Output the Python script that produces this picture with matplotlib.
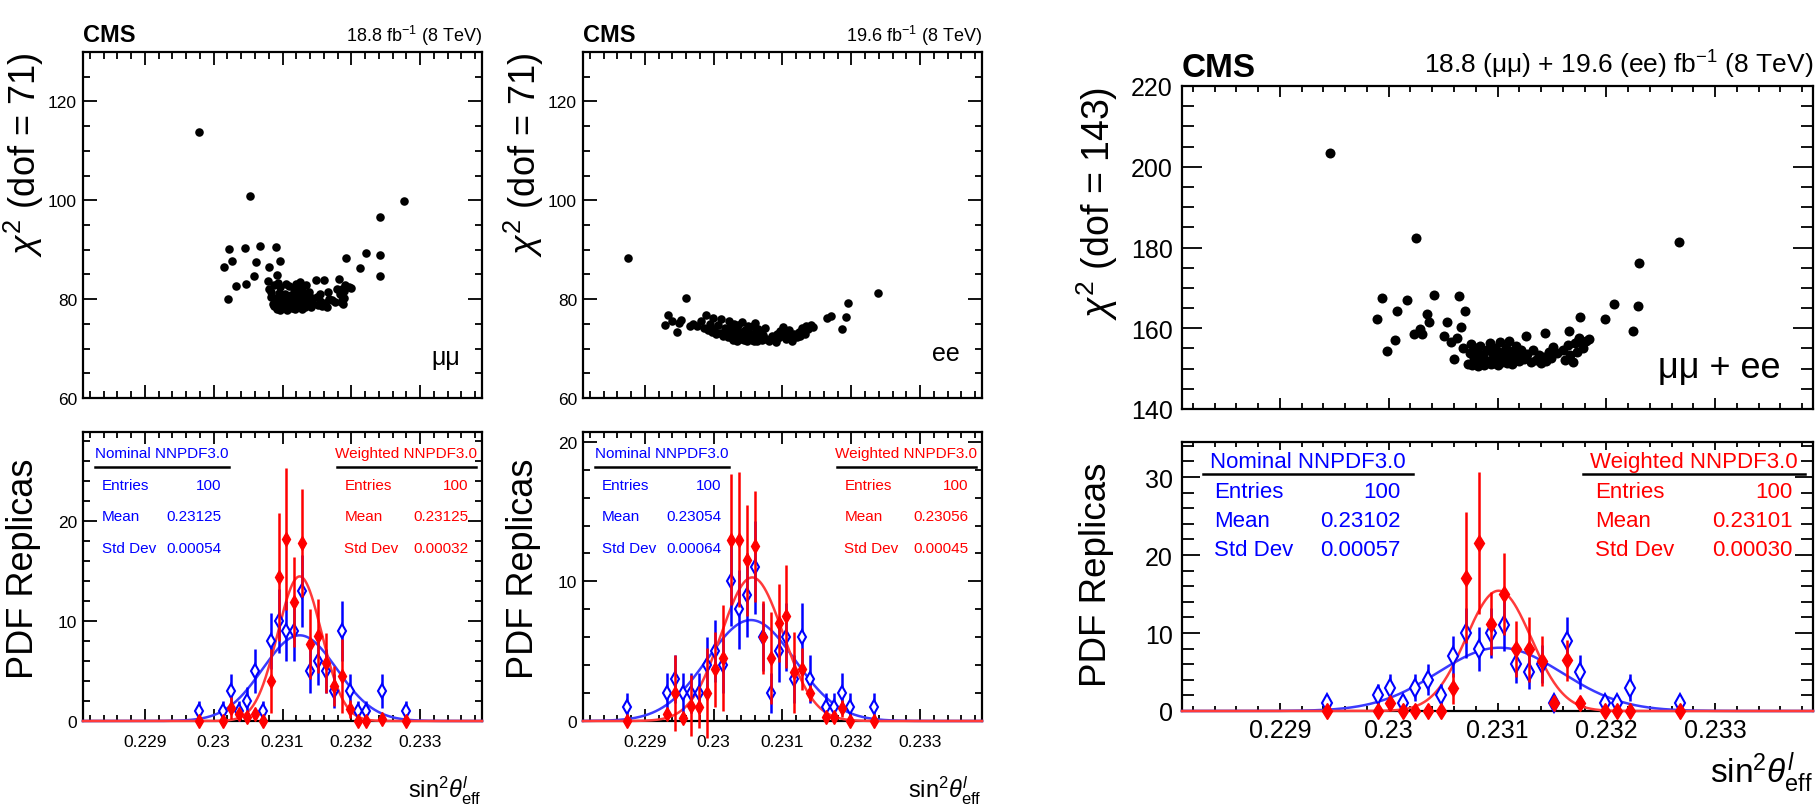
import numpy as np
import matplotlib
matplotlib.use('Agg')
import matplotlib.pyplot as plt
from matplotlib.ticker import MultipleLocator, FuncFormatter

FONT = ['Liberation Sans', 'DejaVu Sans']
plt.rcParams['font.family'] = FONT
plt.rcParams['mathtext.fontset'] = 'custom'
plt.rcParams['mathtext.rm'] = 'Liberation Sans'
plt.rcParams['mathtext.it'] = 'Liberation Sans:italic'
plt.rcParams['mathtext.bf'] = 'Liberation Sans:bold'

BLUE, RED = '#0000ff', '#ff0000'
BLUE_FIT, RED_FIT = '#3a3aff', '#ff3a3a'

# replica histograms: 50 bins over the plotted sin2theta range
X_LO, X_HI, N_BINS = 0.2281, 0.2339, 50
BIN_W = (X_HI - X_LO) / N_BINS

# ---------------- mu mu channel ----------------
mm_points = [
    (0.22978, 113.9), (0.23053, 100.9), (0.23276, 99.9), (0.23242, 96.6), (0.23242, 88.9),
    (0.23242, 84.7), (0.23222, 89.4), (0.23213, 86.3), (0.23193, 88.3),
    (0.23015, 86.6), (0.23022, 90.1), (0.23026, 87.8), (0.23021, 80.1), (0.23032, 82.6),
    (0.23045, 90.3), (0.23047, 83.0), (0.23058, 84.7), (0.23062, 87.6), (0.23067, 90.7),
    (0.23080, 86.5), (0.23091, 90.5), (0.23096, 87.8), (0.23092, 84.8), (0.23079, 83.6),
    (0.23081, 82.1), (0.23084, 80.4), (0.23086, 79.1), (0.23083, 81.5), (0.23088, 78.6),
    (0.23087, 82.8), (0.23090, 80.2), (0.23092, 78.1), (0.23094, 79.4), (0.23095, 81.3),
    (0.23096, 77.8), (0.23098, 80.7), (0.23099, 78.9), (0.23097, 82.4), (0.23093, 83.3),
    (0.23101, 79.6), (0.23103, 78.2), (0.23104, 81.0), (0.23106, 77.9), (0.23107, 80.3),
    (0.23109, 78.7), (0.23110, 82.6), (0.23111, 79.3), (0.23105, 83.1), (0.23113, 80.8),
    (0.23114, 78.3), (0.23116, 79.7), (0.23117, 82.0), (0.23118, 78.0), (0.23119, 81.2),
    (0.23121, 79.0), (0.23122, 80.2), (0.23120, 83.0), (0.23124, 78.6), (0.23125, 80.9),
    (0.23126, 79.4), (0.23127, 82.3), (0.23128, 78.1), (0.23129, 80.0), (0.23130, 81.5),
    (0.23131, 79.1), (0.23132, 78.4), (0.23133, 80.6), (0.23134, 82.8), (0.23134, 79.8),
    (0.23126, 83.4), (0.23137, 79.3), (0.23139, 81.4), (0.23141, 78.5), (0.23143, 80.2),
    (0.23145, 79.0), (0.23149, 83.8), (0.23150, 80.4), (0.23152, 78.9), (0.23154, 79.7),
    (0.23155, 81.1), (0.23157, 78.6), (0.23160, 83.8), (0.23162, 79.2), (0.23164, 78.4),
    (0.23166, 81.4), (0.23168, 80.0), (0.23172, 79.9), (0.23176, 79.4), (0.23179, 82.1),
    (0.23182, 84.1), (0.23183, 81.0), (0.23185, 79.5), (0.23186, 80.6), (0.23187, 82.1),
    (0.23188, 79.0), (0.23189, 81.7), (0.23190, 80.2), (0.23191, 82.8), (0.23196, 82.4),
    (0.23200, 82.2),
]
mm_bins = [14, 17, 18, 19, 20, 21, 22, 23, 24, 25, 26, 27, 28, 29, 30, 31, 32, 33, 34, 35, 37, 40]
mm_nominal = [1, 1, 3, 1, 2, 5, 1, 8, 10, 9, 9, 13, 5, 6, 5, 3, 9, 3, 1, 1, 3, 1]
mm_weighted = [0, 0, 1.3, 0.7, 0.4, 0.7, 0, 4.0, 14.4, 18.2, 11.9, 17.8, 7.7, 8.5, 5.8, 3.5,
               4.5, 1.2, 0, 0, 0.2, 0]
mm_weighted_err = [0, 0, 1.1, 0.5, 0.3, 0.5, 0, 3.2, 6.4, 7.1, 4.5, 5.4, 3.5, 3.7, 3.0, 2.0,
                   3.7, 0.9, 0, 0, 0.2, 0]
mm_nom_stats = (100, 0.23125, 0.00054)
mm_wgt_stats = (100, 0.23125, 0.00032)

# ---------------- ee channel ----------------
ee_points = [
    (0.22876, 88.3), (0.22929, 74.8), (0.22934, 76.7), (0.22939, 75.5), (0.22946, 73.3),
    (0.22950, 75.2), (0.22953, 75.7), (0.22960, 80.3), (0.22966, 74.5), (0.22970, 75.0),
    (0.22976, 74.6), (0.22982, 75.6), (0.22986, 74.2), (0.22989, 76.8), (0.22992, 73.8),
    (0.22995, 74.9), (0.22997, 73.4), (0.22999, 76.2), (0.23001, 74.0), (0.23004, 72.9),
    (0.23006, 74.8), (0.23009, 73.1), (0.23011, 75.9), (0.23014, 72.6), (0.23017, 74.1),
    (0.23020, 73.7), (0.23021, 72.3), (0.23022, 75.6), (0.23023, 73.0), (0.23025, 74.4),
    (0.23026, 72.1), (0.23027, 73.5), (0.23028, 71.8), (0.23029, 74.9), (0.23030, 72.8),
    (0.23032, 73.9), (0.23033, 72.0), (0.23034, 71.6), (0.23036, 74.7), (0.23037, 72.9),
    (0.23039, 71.9), (0.23040, 73.4), (0.23041, 75.3), (0.23043, 72.3), (0.23044, 71.7),
    (0.23046, 73.8), (0.23047, 72.6), (0.23048, 71.5), (0.23050, 74.5), (0.23051, 72.1),
    (0.23052, 73.2), (0.23053, 71.9), (0.23055, 73.0), (0.23056, 71.8), (0.23057, 74.6),
    (0.23058, 72.4), (0.23059, 71.6), (0.23061, 73.6), (0.23062, 72.1), (0.23063, 71.5),
    (0.23064, 74.0), (0.23065, 72.7), (0.23060, 75.2), (0.23067, 72.2), (0.23069, 73.4),
    (0.23070, 71.7), (0.23072, 72.8), (0.23074, 74.1), (0.23076, 72.0), (0.23080, 71.6),
    (0.23085, 72.5), (0.23090, 71.4), (0.23092, 73.0), (0.23094, 72.2), (0.23097, 73.6),
    (0.23099, 72.6), (0.23101, 74.4), (0.23103, 73.1), (0.23105, 71.9), (0.23107, 72.7),
    (0.23109, 73.7), (0.23111, 72.3), (0.23114, 71.6), (0.23117, 73.0), (0.23121, 72.4),
    (0.23124, 73.3), (0.23126, 72.5), (0.23128, 74.2), (0.23130, 73.6), (0.23132, 72.9),
    (0.23134, 74.6), (0.23137, 73.9), (0.23141, 74.8), (0.23145, 74.3), (0.23164, 76.1),
    (0.23171, 76.5), (0.23187, 74.0), (0.23193, 76.4), (0.23195, 79.3), (0.23239, 81.3),
]
ee_bins = [5, 10, 11, 12, 13, 14, 15, 16, 17, 18, 19, 20, 21, 22, 23, 24, 25, 26, 27, 28,
           30, 31, 32, 33, 36]
ee_nominal = [1, 2, 3, 2, 2, 2, 4, 5, 4, 10, 8, 9, 11, 6, 2, 5, 6, 3, 6, 3, 1, 1, 2, 1, 1]
ee_weighted = [0, 0.5, 2.0, 0.25, 1.1, 1.0, 2.0, 3.7, 4.5, 13.0, 13.0, 11.5, 12.5, 6.0, 4.5,
               7.0, 7.5, 3.5, 3.7, 2.0, 0.3, 0.3, 0.9, 0, 0]
ee_weighted_err = [0, 0.4, 2.7, 0.2, 2.2, 1.5, 3.2, 2.7, 3.8, 4.7, 4.8, 4.0, 4.0, 2.6, 3.3,
                   2.8, 3.7, 2.9, 1.5, 0.6, 0.3, 0.3, 0.6, 0, 0]
ee_nom_stats = (100, 0.23054, 0.00064)
ee_wgt_stats = (100, 0.23056, 0.00045)

# ---------------- combined mu mu + ee ----------------
comb_points = [
    (0.22946, 203.5), (0.23025, 182.4), (0.22994, 167.6), (0.23008, 164.3), (0.22989, 162.4),
    (0.23017, 167.0), (0.23042, 168.2), (0.23006, 157.1), (0.22998, 154.4), (0.23023, 158.6),
    (0.23031, 158.6), (0.23035, 163.5), (0.23037, 161.5), (0.23029, 159.8), (0.23267, 181.3),
    (0.23230, 176.1), (0.23229, 165.6), (0.23225, 159.2), (0.23207, 166.1), (0.23199, 162.4),
    (0.23176, 162.9), (0.23065, 168.0), (0.23070, 164.3), (0.23054, 161.5), (0.23066, 160.2),
    (0.23060, 152.5), (0.23126, 158.1), (0.23144, 158.8), (0.23166, 159.4), (0.23181, 156.9),
    (0.23174, 156.9), (0.23051, 158.1), (0.23057, 156.5), (0.23063, 157.5), (0.23068, 155.0),
    (0.23073, 151.2), (0.23075, 153.8), (0.23076, 156.2), (0.23077, 150.8), (0.23078, 152.6),
    (0.23079, 155.1), (0.23080, 151.7), (0.23081, 154.0), (0.23082, 150.6), (0.23083, 152.9),
    (0.23084, 155.6), (0.23085, 151.4), (0.23087, 153.3), (0.23088, 150.9), (0.23090, 154.6),
    (0.23091, 152.0), (0.23093, 156.3), (0.23094, 151.2), (0.23096, 153.6), (0.23097, 151.5),
    (0.23098, 155.2), (0.23099, 152.3), (0.23100, 150.9), (0.23101, 154.1), (0.23102, 156.6),
    (0.23103, 152.8), (0.23104, 151.6), (0.23105, 153.7), (0.23107, 152.0), (0.23108, 155.0),
    (0.23109, 151.3), (0.23110, 153.4), (0.23111, 156.8), (0.23112, 152.5), (0.23113, 151.1),
    (0.23114, 154.3), (0.23115, 152.9), (0.23116, 151.8), (0.23117, 155.6), (0.23119, 153.1),
    (0.23120, 151.9), (0.23122, 154.7), (0.23124, 152.4), (0.23127, 153.6), (0.23131, 151.6),
    (0.23133, 154.5), (0.23135, 152.2), (0.23138, 153.3), (0.23140, 151.4), (0.23143, 153.0),
    (0.23145, 151.8), (0.23147, 154.2), (0.23149, 152.6), (0.23151, 155.3), (0.23155, 153.9),
    (0.23160, 154.6), (0.23162, 152.1), (0.23165, 155.8), (0.23167, 153.3), (0.23169, 151.7),
    (0.23171, 156.4), (0.23173, 154.0), (0.23175, 157.6), (0.23179, 155.1), (0.23184, 157.4),
]
comb_bins = [11, 15, 16, 17, 18, 19, 20, 21, 22, 23, 24, 25, 26, 27, 28, 29, 30, 31, 33, 34, 35, 39]
comb_nominal = [1, 2, 3, 1, 3, 4, 2, 7, 10, 8, 10, 11, 6, 5, 6, 1, 9, 5, 1, 1, 3, 1]
comb_weighted = [0, 0, 1.0, 0, 0, 0, 0, 2.9, 17.1, 21.5, 11.2, 15.0, 7.9, 7.9, 6.4, 1.0, 6.5,
                 1.0, 0, 0, 0, 0]
comb_weighted_err = [0, 0, 0.8, 0, 0, 0, 0, 2.0, 8.4, 9.1, 4.0, 5.2, 3.6, 4.2, 3.2, 0.6, 2.6,
                     0.5, 0, 0, 0, 0]
comb_nom_stats = (100, 0.23102, 0.00057)
comb_wgt_stats = (100, 0.23101, 0.00030)

W, H = 1818, 812
fig = plt.figure(figsize=(W / 100, H / 100), dpi=100)


def px_axes(left, top, right, bottom):
    return fig.add_axes([left / W, 1 - bottom / H, (right - left) / W, (bottom - top) / H])


def frame(ax, ylim, ystep, ysub, xlen, ylen, size, xpad, ypad, xlabels):
    ax.set_xlim(X_LO, X_HI)
    ax.set_ylim(*ylim)
    ax.xaxis.set_major_locator(MultipleLocator(0.001))
    ax.xaxis.set_minor_locator(MultipleLocator(0.0002))
    ax.yaxis.set_major_locator(MultipleLocator(ystep))
    ax.yaxis.set_minor_locator(MultipleLocator(ysub))
    ax.tick_params(which='both', direction='in', top=True, right=True, width=1.3,
                   labelsize=size)
    ax.tick_params(axis='x', which='major', length=xlen[0], pad=xpad)
    ax.tick_params(axis='x', which='minor', length=xlen[1])
    ax.tick_params(axis='y', which='major', length=ylen[0], pad=ypad)
    ax.tick_params(axis='y', which='minor', length=ylen[1])
    ax.xaxis.set_major_formatter(FuncFormatter(lambda v, p: '%g' % round(v, 4)))
    ax.yaxis.set_major_formatter(FuncFormatter(lambda v, p: '%g' % round(v, 3)))
    if not xlabels:
        ax.tick_params(axis='x', labelbottom=False)
    for sp in ax.spines.values():
        sp.set_linewidth(1.6)


def scatter_panel(ax, points, dot):
    sin2, chi2 = zip(*points)
    ax.scatter(sin2, chi2, s=dot, color='black', linewidths=0, zorder=3)


def hist_panel(ax, bins, nominal, weighted, weighted_err, nom_stats, wgt_stats, ms):
    centers = X_LO + (np.asarray(bins) + 0.5) * BIN_W
    xs = np.linspace(X_LO, X_HI, 800)
    # gaussian curves from the quoted mean and std dev, scaled to the bin width
    for (n, mean, std), col in ((nom_stats, BLUE_FIT), (wgt_stats, RED_FIT)):
        amp = n * BIN_W / (np.sqrt(2 * np.pi) * std)
        ax.plot(xs, amp * np.exp(-0.5 * ((xs - mean) / std) ** 2), color=col, lw=1.8,
                zorder=3, clip_on=False)
    nom = np.asarray(nominal, float)
    keep = nom > 0
    eb1 = ax.errorbar(centers[keep], nom[keep], yerr=np.sqrt(nom[keep]), fmt='d', ms=ms,
                      mfc='white', mec=BLUE, mew=1.5, color=BLUE, elinewidth=1.8,
                      capsize=0, zorder=4)
    eb2 = ax.errorbar(centers, weighted, yerr=weighted_err, fmt='d', ms=ms * 0.95,
                      color=RED, elinewidth=1.8, capsize=0, zorder=5)
    for cont in (eb1, eb2):
        for art in cont.get_children():
            art.set_clip_on(False)


def stats_box(ax, u0, u1, title, stats, color, size):
    n, mean, std = stats
    ax.text((u0 + u1) / 2, 0.926, title, transform=ax.transAxes, ha='center', va='center',
            color=color, fontsize=size, zorder=6)
    ax.plot([u0, u1], [0.880, 0.880], transform=ax.transAxes, color='black', lw=1.8,
            clip_on=False, zorder=6)
    rows = [('Entries', '%d' % n), ('Mean', '%.5f' % mean), ('Std Dev', '%.5f' % std)]
    for (lab, val), y in zip(rows, (0.815, 0.710, 0.600)):
        ax.text(u0 + 0.018, y, lab, transform=ax.transAxes, ha='left', va='center',
                color=color, fontsize=size, zorder=6)
        ax.text(u1 - 0.019, y, val, transform=ax.transAxes, ha='right', va='center',
                color=color, fontsize=size, zorder=6)


XLABEL = r'$\mathrm{sin}^{2}\theta^{\mathit{l}}_{\mathrm{eff}}$'

# ---- the two single-channel columns ----
columns = [
    (83, mm_points, mm_bins, mm_nominal, mm_weighted, mm_weighted_err, mm_nom_stats,
     mm_wgt_stats, (0, 28.9), '18.8 fb$^{-1}$ (8 TeV)', 'μμ', 0.118),
    (583, ee_points, ee_bins, ee_nominal, ee_weighted, ee_weighted_err, ee_nom_stats,
     ee_wgt_stats, (0, 20.7), '19.6 fb$^{-1}$ (8 TeV)', 'ee', 0.130),
]
for left, pts, bins, nomc, wgt, werr, nst, wst, hylim, lumi, chan, chan_y in columns:
    right = left + 399
    top_ax = px_axes(left, 53, right, 399)
    frame(top_ax, (60, 130), 20, 5, (9.4, 5), (10, 5), 12.5, 6, 4.3, False)
    scatter_panel(top_ax, pts, 38)
    top_ax.text(0, 1.032, 'CMS', transform=top_ax.transAxes, ha='left', va='baseline',
                fontsize=17, fontweight='bold')
    top_ax.text(1, 1.032, lumi, transform=top_ax.transAxes, ha='right', va='baseline',
                fontsize=13)
    top_ax.text(0.945, chan_y, chan, transform=top_ax.transAxes, ha='right', va='center',
                fontsize=18)
    top_ax.text(-0.148, 1.0, r'$\chi^{2}$ (dof = 71)', transform=top_ax.transAxes,
                rotation=90, ha='center', va='top', fontsize=26)

    bot_ax = px_axes(left, 433, right, 722)
    frame(bot_ax, hylim, 10, 2, (8.6, 4.3), (10, 5), 12.5, 9.5, 4.3, True)
    hist_panel(bot_ax, bins, nomc, wgt, werr, nst, wst, 7.5)
    stats_box(bot_ax, 0.030, 0.366, 'Nominal NNPDF3.0', nst, BLUE, 11)
    stats_box(bot_ax, 0.637, 0.984, 'Weighted NNPDF3.0', wst, RED, 11)
    bot_ax.text(-0.148, 0.913, 'PDF Replicas', transform=bot_ax.transAxes, rotation=90,
                ha='center', va='top', fontsize=26)
    bot_ax.text(1.0, -0.263, XLABEL, transform=bot_ax.transAxes, ha='right',
                va='baseline', fontsize=17)

# ---- combined column ----
top_ax = px_axes(1182, 87, 1813, 410)
frame(top_ax, (140, 220), 20, 5, (8, 4.3), (14.4, 8.6), 18, 5, 6.5, False)
scatter_panel(top_ax, comb_points, 52)
top_ax.text(0, 1.031, 'CMS', transform=top_ax.transAxes, ha='left', va='baseline',
            fontsize=24, fontweight='bold')
top_ax.text(1, 1.043, '18.8 (μμ) + 19.6 (ee) fb$^{-1}$ (8 TeV)', transform=top_ax.transAxes,
            ha='right', va='baseline', fontsize=19)
top_ax.text(0.948, 0.130, 'μμ + ee', transform=top_ax.transAxes, ha='right', va='center',
            fontsize=26)
top_ax.text(-0.135, 1.0, r'$\chi^{2}$ (dof = 143)', transform=top_ax.transAxes,
            rotation=90, ha='center', va='top', fontsize=27)

bot_ax = px_axes(1182, 443, 1813, 712)
frame(bot_ax, (0, 34.5), 10, 2, (5.8, 3.6), (13, 8.6), 18, 5, 6.5, True)
hist_panel(bot_ax, comb_bins, comb_nominal, comb_weighted, comb_weighted_err,
           comb_nom_stats, comb_wgt_stats, 9)
stats_box(bot_ax, 0.033, 0.366, 'Nominal NNPDF3.0', comb_nom_stats, BLUE, 16)
stats_box(bot_ax, 0.636, 0.987, 'Weighted NNPDF3.0', comb_wgt_stats, RED, 16)
bot_ax.text(-0.135, 0.926, 'PDF Replicas', transform=bot_ax.transAxes, rotation=90,
            ha='center', va='top', fontsize=26.5)
bot_ax.text(1.0, -0.264, XLABEL, transform=bot_ax.transAxes, ha='right', va='baseline',
            fontsize=24)

fig.savefig('out.png', dpi=100)
